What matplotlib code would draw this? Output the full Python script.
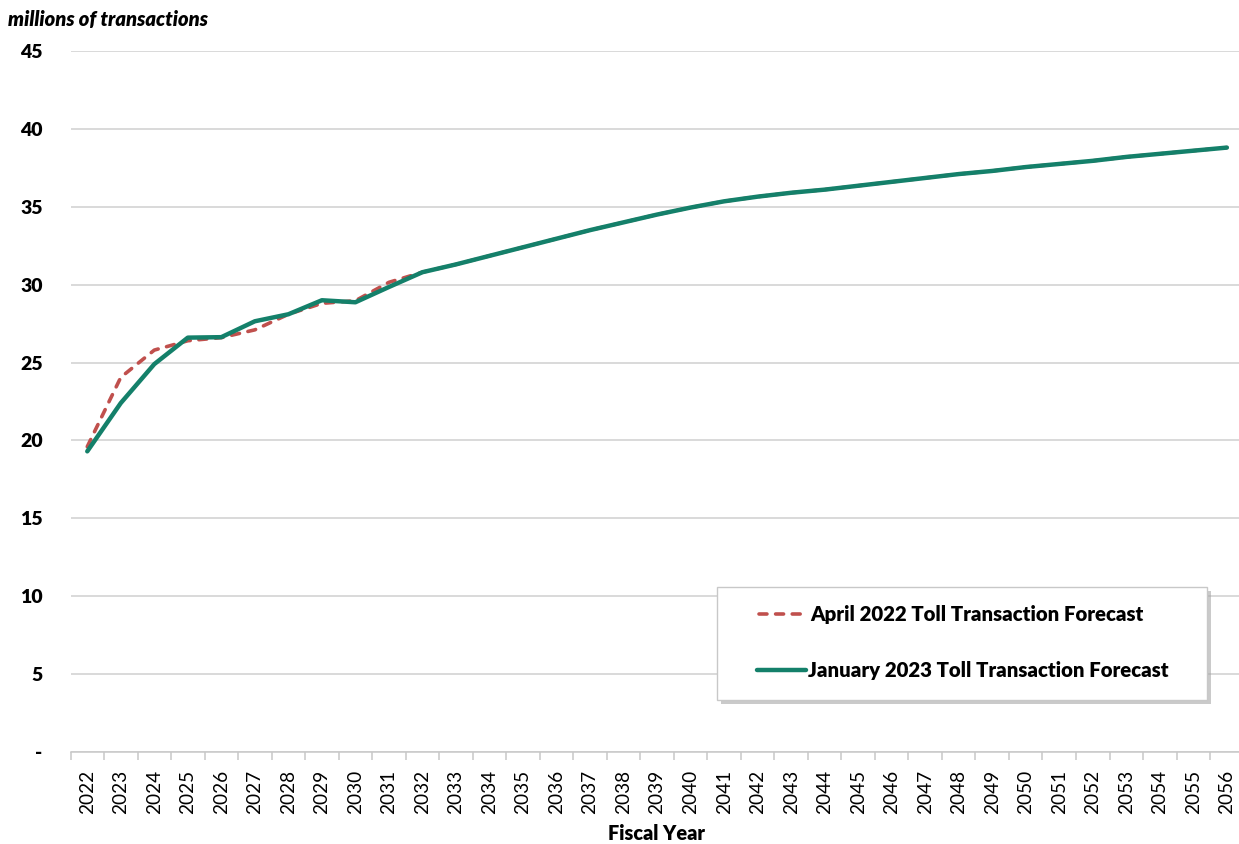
import matplotlib
matplotlib.use("Agg")
import matplotlib.pyplot as plt
from matplotlib.lines import Line2D
from matplotlib.patches import Rectangle
import numpy as np

years = list(range(2022, 2057))
april_2022 = [19.6, 24.05, 25.8, 26.4, 26.6, 27.1, 28.1, 28.8, 28.97, 30.15, 30.8,
              31.3, 31.85, 32.4, 32.95, 33.5, 34.0, 34.5, 34.95, 35.35, 35.65,
              35.9, 36.1, 36.35, 36.6, 36.85, 37.1, 37.3, 37.55, 37.75, 37.95,
              38.2, 38.4, 38.6, 38.8]
january_2023 = [19.3, 22.4, 24.9, 26.6, 26.63, 27.65, 28.1, 29.0, 28.87, 29.85, 30.8,
                31.3, 31.85, 32.4, 32.95, 33.5, 34.0, 34.5, 34.95, 35.35, 35.65,
                35.9, 36.1, 36.35, 36.6, 36.85, 37.1, 37.3, 37.55, 37.75, 37.95,
                38.2, 38.4, 38.6, 38.8]
yticks = [0, 5, 10, 15, 20, 25, 30, 35, 40, 45]
ytick_labels = ["-", "5", "10", "15", "20", "25", "30", "35", "40", "45"]
labels = ["April 2022 Toll Transaction Forecast", "January 2023 Toll Transaction Forecast"]

FONT = "Lato"
plt.rcParams['font.family'] = [FONT, 'DejaVu Sans']
BOLD = 'heavy'

RED = "#C0504D"
GREEN = "#14806A"
RED_LS = (0, (2.2, 2.4))

W, H = 1239, 844
fig = plt.figure(figsize=(W / 100, H / 100), dpi=100)
left, right, bottom, top = 70.5, 1243.6, 752, 51
ax = fig.add_axes([left / W, 1 - bottom / H, (right - left) / W, (bottom - top) / H])

x = np.arange(len(years))
ax.plot(x, april_2022, color=RED, lw=2.6, ls=RED_LS, dash_capstyle='round', zorder=3)
ax.plot(x, january_2023, color=GREEN, lw=3.2, solid_capstyle='round', zorder=4)

ax.set_xlim(-0.5, len(years) - 0.5)
ax.set_ylim(0, 45)
ax.set_yticks(yticks)
ax.set_yticklabels(ytick_labels, fontsize=14, fontweight=BOLD)
ax.tick_params(axis='y', length=0, pad=20)
ax.grid(axis='y', color='#D0D0D0', lw=1.1)
ax.set_axisbelow(True)

ax.set_xticks(x)
ax.set_xticklabels([str(y) for y in years], rotation=90, fontsize=13.7)
ax.set_xticks(np.arange(-0.5, len(years) + 0.5, 1), minor=True)
ax.tick_params(axis='x', which='major', length=0, pad=13)
ax.tick_params(axis='x', which='minor', length=6, color='#C8C8C8', width=1.1)

for s in ['left', 'right', 'top']:
    ax.spines[s].set_visible(False)
ax.spines['bottom'].set_color('#C8C8C8')
ax.spines['bottom'].set_linewidth(1.1)

fig.text(8 / W, 1 - 19 / H, "millions of transactions", fontsize=14.5, fontweight=BOLD,
         fontstyle='italic', ha='left', va='center')
fig.text(656 / W, 1 - 833 / H, "Fiscal Year", fontsize=14.3, fontweight=BOLD,
         ha='center', va='center')

# legend box (drawn manually for exact placement)
def fx(px):
    return px / W

def fy(py):
    return 1 - py / H

bx0, bx1, by0, by1 = 717, 1207, 587, 700
shadow = Rectangle((fx(bx0 + 4), fy(by1 + 4)), fx(bx1 - bx0), (by1 - by0) / H,
                   transform=fig.transFigure, facecolor='#A0A0A0', edgecolor='none',
                   alpha=0.55, zorder=9)
box = Rectangle((fx(bx0), fy(by1)), fx(bx1 - bx0), (by1 - by0) / H,
                transform=fig.transFigure, facecolor='white', edgecolor='#C8C8C8',
                lw=1.0, zorder=10)
fig.patches.extend([shadow, box])
fig.lines.append(Line2D([fx(759), fx(803)], [fy(614), fy(614)], transform=fig.transFigure,
                        color=RED, lw=2.6, ls=RED_LS, dash_capstyle='round', zorder=11))
fig.lines.append(Line2D([fx(757), fx(806)], [fy(670), fy(670)], transform=fig.transFigure,
                        color=GREEN, lw=3.2, solid_capstyle='round', zorder=11))
fig.text(fx(810), fy(614), labels[0], fontsize=14.7, fontweight=BOLD, ha='left',
         va='center', zorder=12)
fig.text(fx(808), fy(670), labels[1], fontsize=14.7, fontweight=BOLD, ha='left',
         va='center', zorder=12)

fig.savefig("out.png", dpi=100)
